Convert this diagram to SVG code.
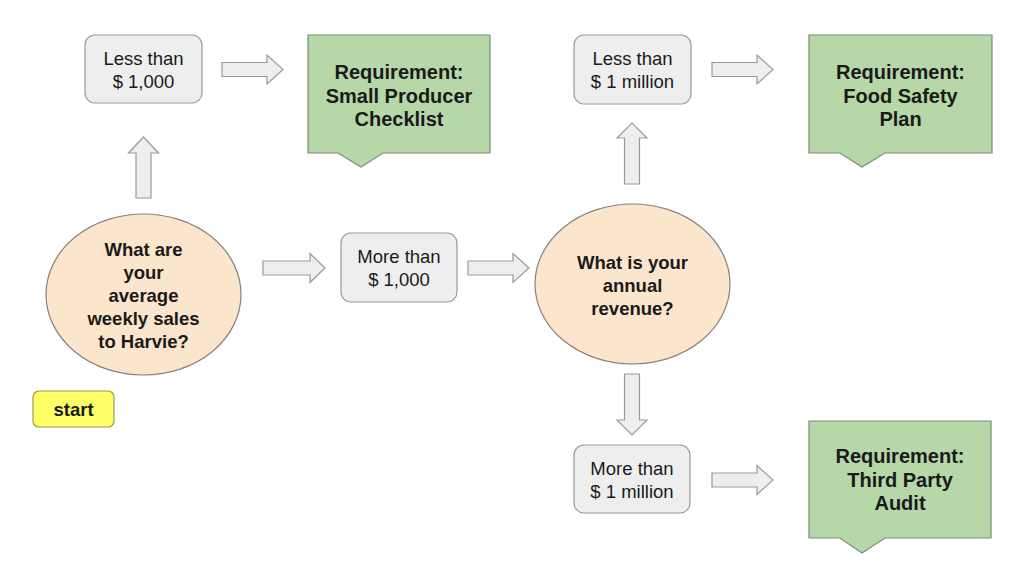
<svg xmlns="http://www.w3.org/2000/svg" width="1024" height="565" viewBox="0 0 1024 565">
<style>
.box{fill:#eeeeee;stroke:#999999;stroke-width:1.2}
.req{fill:#b6d7a8;stroke:#7a8f74;stroke-width:1.2}
.q{fill:#fce5cd;stroke:#8a8178;stroke-width:1.2}
.arr{fill:#eeeeee;stroke:#9a9a9a;stroke-width:1.2}
.start{fill:#ffff66;stroke:#9a9a55;stroke-width:1.2}
text{font-family:"Liberation Sans",Arial,sans-serif;fill:#1a1a1a;text-anchor:middle}
.t{font-size:18.5px}
.b{font-size:18.5px;font-weight:bold}
.g{font-size:20px;font-weight:bold}
</style>
<rect width="1024" height="565" fill="#ffffff"/>
<g id="connectors">
<polygon class="arr" points="222,62.5 267,62.5 267,55 283,69.5 267,84 267,76.5 222,76.5"/>
<polygon class="arr" points="263,261 310,261 310,253.5 325,268 310,282.5 310,275 263,275"/>
<polygon class="arr" points="468,261 513,261 513,253.5 529,268 513,282.5 513,275 468,275"/>
<polygon class="arr" points="712,62.5 757,62.5 757,55 773,69.5 757,84 757,76.5 712,76.5"/>
<polygon class="arr" points="712,473 757,473 757,465.5 773,480 757,494.5 757,487 712,487"/>
<polygon class="arr" points="136,198 136,153 128.5,153 143.5,137 158.5,153 151,153 151,198"/>
<polygon class="arr" points="624.5,184 624.5,138 617,138 632,123 647,138 639.5,138 639.5,184"/>
<polygon class="arr" points="624.5,374 624.5,420 617,420 632,435 647,420 639.5,420 639.5,374"/>
</g>
<g id="q1">
<ellipse class="q" cx="143.5" cy="294.5" rx="97.5" ry="80.5"/>
<text class="b" x="143.5" y="255.5">What are</text>
<text class="b" x="143.5" y="278.5">your</text>
<text class="b" x="143.5" y="301.5">average</text>
<text class="b" x="143.5" y="324.5">weekly sales</text>
<text class="b" x="143.5" y="347.5">to Harvie?</text>
</g>
<g id="start">
<rect class="start" x="33" y="391" width="81" height="36" rx="6"/>
<text class="b" x="73.5" y="415.5">start</text>
</g>
<g id="lt1000">
<rect class="box" x="85" y="35" width="117" height="68" rx="10"/>
<text class="t" x="143.5" y="65">Less than</text>
<text class="t" x="143.5" y="88">$ 1,000</text>
</g>
<g id="req1">
<path class="req" d="M308,35 H490 V153 H383 L361,167 L338,153 H308 Z"/>
<text class="g" x="399" y="79">Requirement:</text>
<text class="g" x="399" y="102.5">Small Producer</text>
<text class="g" x="399" y="126">Checklist</text>
</g>
<g id="mt1000">
<rect class="box" x="341" y="233" width="116" height="69" rx="10"/>
<text class="t" x="399" y="263">More than</text>
<text class="t" x="399" y="286">$ 1,000</text>
</g>
<g id="q2">
<ellipse class="q" cx="632.5" cy="284" rx="97.5" ry="80"/>
<text class="b" x="632.5" y="268.5">What is your</text>
<text class="b" x="632.5" y="291.5">annual</text>
<text class="b" x="632.5" y="314.5">revenue?</text>
</g>
<g id="lt1m">
<rect class="box" x="574" y="35" width="117" height="69" rx="10"/>
<text class="t" x="632.5" y="65">Less than</text>
<text class="t" x="632.5" y="88">$ 1 million</text>
</g>
<g id="req2">
<path class="req" d="M809,35 H992 V153 H885 L862,167 L840,153 H809 Z"/>
<text class="g" x="900.5" y="79">Requirement:</text>
<text class="g" x="900.5" y="102.5">Food Safety</text>
<text class="g" x="900.5" y="126">Plan</text>
</g>
<g id="mt1m">
<rect class="box" x="574" y="445" width="116" height="68" rx="10"/>
<text class="t" x="632" y="475">More than</text>
<text class="t" x="632" y="498">$ 1 million</text>
</g>
<g id="req3">
<path class="req" d="M809,421 H991 V538 H885 L862,553 L840,538 H809 Z"/>
<text class="g" x="900" y="463">Requirement:</text>
<text class="g" x="900" y="486.5">Third Party</text>
<text class="g" x="900" y="510">Audit</text>
</g>
</svg>
